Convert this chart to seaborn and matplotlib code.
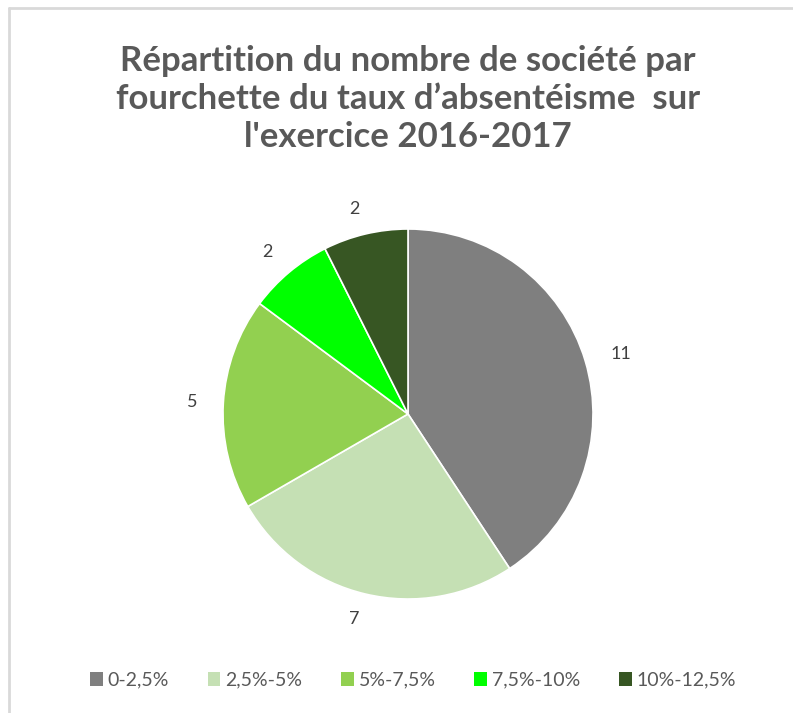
import matplotlib
matplotlib.use("Agg")
import matplotlib.pyplot as plt
import seaborn as sns
from matplotlib.patches import Patch
from matplotlib.lines import Line2D

categories = ["0-2,5%", "2,5%-5%", "5%-7,5%", "7,5%-10%", "10%-12,5%"]
values = [11, 7, 5, 2, 2]
colors = ["#7f7f7f", "#c5e0b4", "#92d050", "#00ff00", "#375623"]
title = "Répartition du nombre de société par\nfourchette du taux d’absentéisme  sur\nl'exercice 2016-2017"

sns.set_theme(style="white")
plt.rcParams['font.family'] = ['Lato', 'DejaVu Sans']

W, H = 793, 713
fig = plt.figure(figsize=(W / 100, H / 100), dpi=100)
fig.patch.set_facecolor("white")

cx, cy, r = 408, 414, 185
ax = fig.add_axes([(cx - r) / W, (H - cy - r) / H, 2 * r / W, 2 * r / H])
wedges, texts = ax.pie(values, colors=colors, startangle=90, counterclock=False,
                       labels=[str(v) for v in values], labeldistance=1.14,
                       wedgeprops=dict(edgecolor="white", linewidth=1.2),
                       textprops=dict(fontsize=13, color="#404040"))
ax.set_xlim(-1, 1)
ax.set_ylim(-1, 1)
ax.set_aspect("equal")
ax.axis("off")

fig.text(cx / W, 1 - 99 / H, title, ha="center", va="center", fontsize=25,
         fontweight="bold", color="#595959", linespacing=1.22)

handles = [Patch(facecolor=c, edgecolor="none") for c in colors]
fig.legend(handles, categories, loc="center", bbox_to_anchor=(413 / W, 1 - 680 / H),
           ncol=5, frameon=False, fontsize=14, labelcolor="#595959",
           handlelength=0.65, handleheight=0.7, handletextpad=0.25, columnspacing=2.0)

# border (top and left visible)
fig.add_artist(Line2D([9 / W, 1], [1 - 8 / H, 1 - 8 / H], color="#d9d9d9", lw=2))
fig.add_artist(Line2D([9 / W, 9 / W], [0, 1 - 8 / H], color="#d9d9d9", lw=2))

fig.savefig("out.png", dpi=100, facecolor="white")
